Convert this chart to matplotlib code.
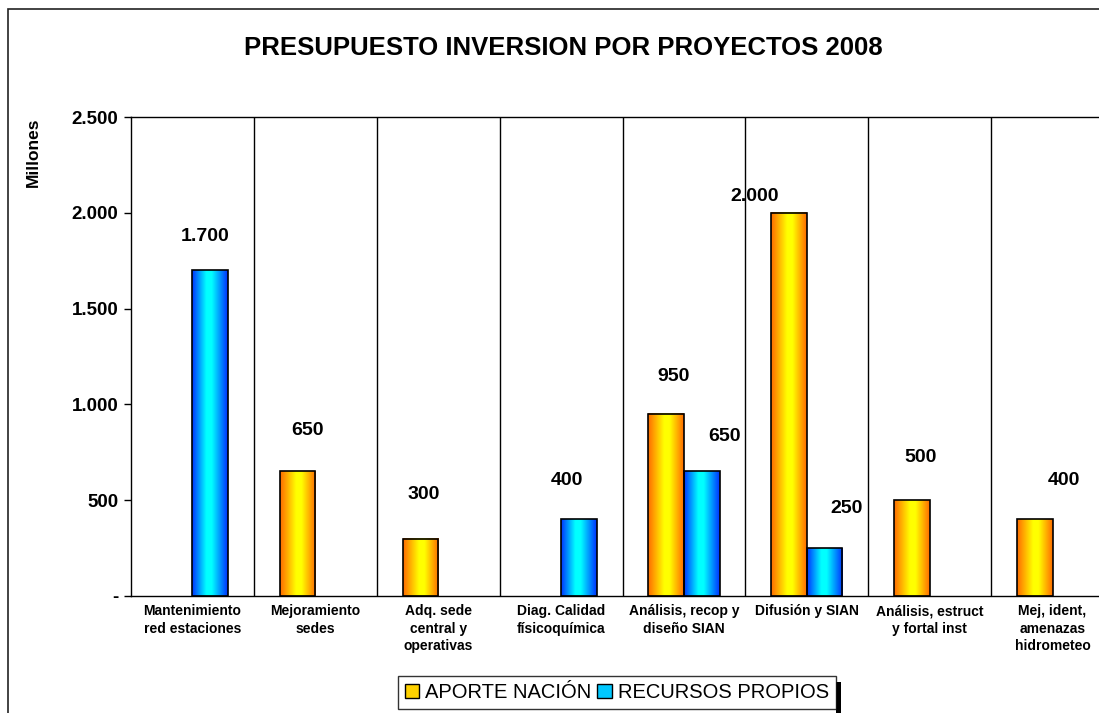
import matplotlib
matplotlib.use("Agg")
import matplotlib.pyplot as plt
import numpy as np
from matplotlib.colors import LinearSegmentedColormap
from matplotlib.patches import Patch, Rectangle
from matplotlib.ticker import FuncFormatter

plt.rcParams["font.family"] = ["Liberation Sans", "DejaVu Sans"]

# ---- data ----
categories = [
    "Mantenimiento\nred estaciones",
    "Mejoramiento\nsedes",
    "Adq. sede\ncentral y\noperativas",
    "Diag. Calidad\nfísicoquímica",
    "Análisis, recop y\ndiseño SIAN",
    "Difusión y SIAN",
    "Análisis, estruct\ny fortal inst",
    "Mej, ident,\namenazas\nhidrometeo",
]
aporte_nacion = [0, 650, 300, 0, 950, 2000, 500, 400]
recursos_propios = [1700, 0, 0, 400, 650, 250, 0, 0]
series_names = ["APORTE NACIÓN", "RECURSOS PROPIOS"]
y_ticks = [0, 500, 1000, 1500, 2000, 2500]

# label offsets in px from bar top (hand placed in the original)
off_aporte = [None, (10, 41), (3, 44), None, (7, 37), (-34, 16), (9, 43), (29, 39)]
off_propios = [(-5, 34), None, None, (-12, 39), (23, 35), (22, 40), None, None]

W, H, DPI = 1099, 713, 100
fig = plt.figure(figsize=(W / DPI, H / DPI), dpi=DPI)

# outer chart frame (partly off-image)
fig.patches.append(Rectangle((8 / W, -0.1), 1.1, 1.1 - 9 / H, transform=fig.transFigure,
                             fill=False, edgecolor="#222222", lw=1.2, zorder=0))

ax = fig.add_axes([131 / W, 117 / H, 983 / W, 479 / H])

cmap_or = LinearSegmentedColormap.from_list(
    "or", [(0, "#FF6A00"), (0.45, "#FFFF00"), (0.6, "#FFFF00"), (1, "#FF6A00")])
cmap_bl = LinearSegmentedColormap.from_list(
    "bl", [(0, "#0033FF"), (0.4, "#00FFFF"), (0.55, "#00FFFF"), (1, "#0030FF")])
grad = np.linspace(0, 1, 256).reshape(1, -1)

x = np.arange(len(categories))
bw = 0.29
bars_a = ax.bar(x - bw / 2, aporte_nacion, bw, facecolor="none", edgecolor="black", lw=1.2, zorder=3)
bars_p = ax.bar(x + bw / 2, recursos_propios, bw, facecolor="none", edgecolor="black", lw=1.2, zorder=3)

for bars, cmap in [(bars_a, cmap_or), (bars_p, cmap_bl)]:
    for b in bars:
        h = b.get_height()
        if h <= 0:
            b.set_visible(False)
            continue
        x0 = b.get_x()
        ax.imshow(grad, cmap=cmap, aspect="auto", zorder=2,
                  extent=[x0, x0 + b.get_width(), 0, h], interpolation="bilinear")

for bars, vals, offs in [(bars_a, aporte_nacion, off_aporte), (bars_p, recursos_propios, off_propios)]:
    for b, v, o in zip(bars, vals, offs):
        if v <= 0 or o is None:
            continue
        ax.annotate(f"{v:,.0f}".replace(",", "."), (b.get_x() + b.get_width() / 2, v),
                    xytext=(o[0] * 0.72, o[1] * 0.72), textcoords="offset points",
                    ha="center", va="center", fontsize=14, fontweight="bold")

ax.set_xlim(-0.5, len(categories) - 0.5)
ax.set_ylim(0, 2500)
ax.set_yticks(y_ticks)
ax.yaxis.set_major_formatter(FuncFormatter(lambda v, p: "-" if v == 0 else f"{v:,.0f}".replace(",", ".")))
ax.tick_params(axis="y", direction="out", length=5, width=1, pad=4, labelsize=13.5)
for t in ax.get_yticklabels():
    t.set_fontweight("bold")
ax.set_xticks(x)
ax.set_xticklabels(categories, fontsize=10, fontweight="bold", linespacing=1.3, va="top")
ax.tick_params(axis="x", length=0, pad=6)

for xs in x[:-1] + 0.5:
    ax.axvline(xs, color="black", lw=1, zorder=1)
for s in ax.spines.values():
    s.set_linewidth(1)
    s.set_color("black")

fig.text(33 / W, 1 - 152 / H, "Millones", rotation=90, ha="center", va="center",
         fontsize=12.5, fontweight="bold")
fig.text(563 / W, 1 - 48 / H, "PRESUPUESTO INVERSION POR PROYECTOS 2008",
         ha="center", va="center", fontsize=18.5, fontweight="bold")

handles = [Patch(facecolor="#FFD200", edgecolor="black"),
           Patch(facecolor="#00C8FF", edgecolor="black")]
leg = fig.legend(handles, series_names, loc="upper left", bbox_to_anchor=(398 / W, 1 - 676 / H),
                 ncol=2, fontsize=14.5, frameon=True, fancybox=False, edgecolor="black",
                 handlelength=0.7, handleheight=0.7, handletextpad=0.3, columnspacing=0.3,
                 borderpad=0.35, borderaxespad=0)
leg.get_frame().set_linewidth(1)

# right-hand shadow of the legend box
fig.canvas.draw()
bb = leg.get_frame().get_window_extent()
fig.patches.append(Rectangle((bb.x1 / W, (bb.y0 - 4) / H), 5 / W, (bb.height - 2) / H,
                             transform=fig.transFigure, facecolor="black", edgecolor="none"))

fig.savefig("out.png", dpi=DPI)
